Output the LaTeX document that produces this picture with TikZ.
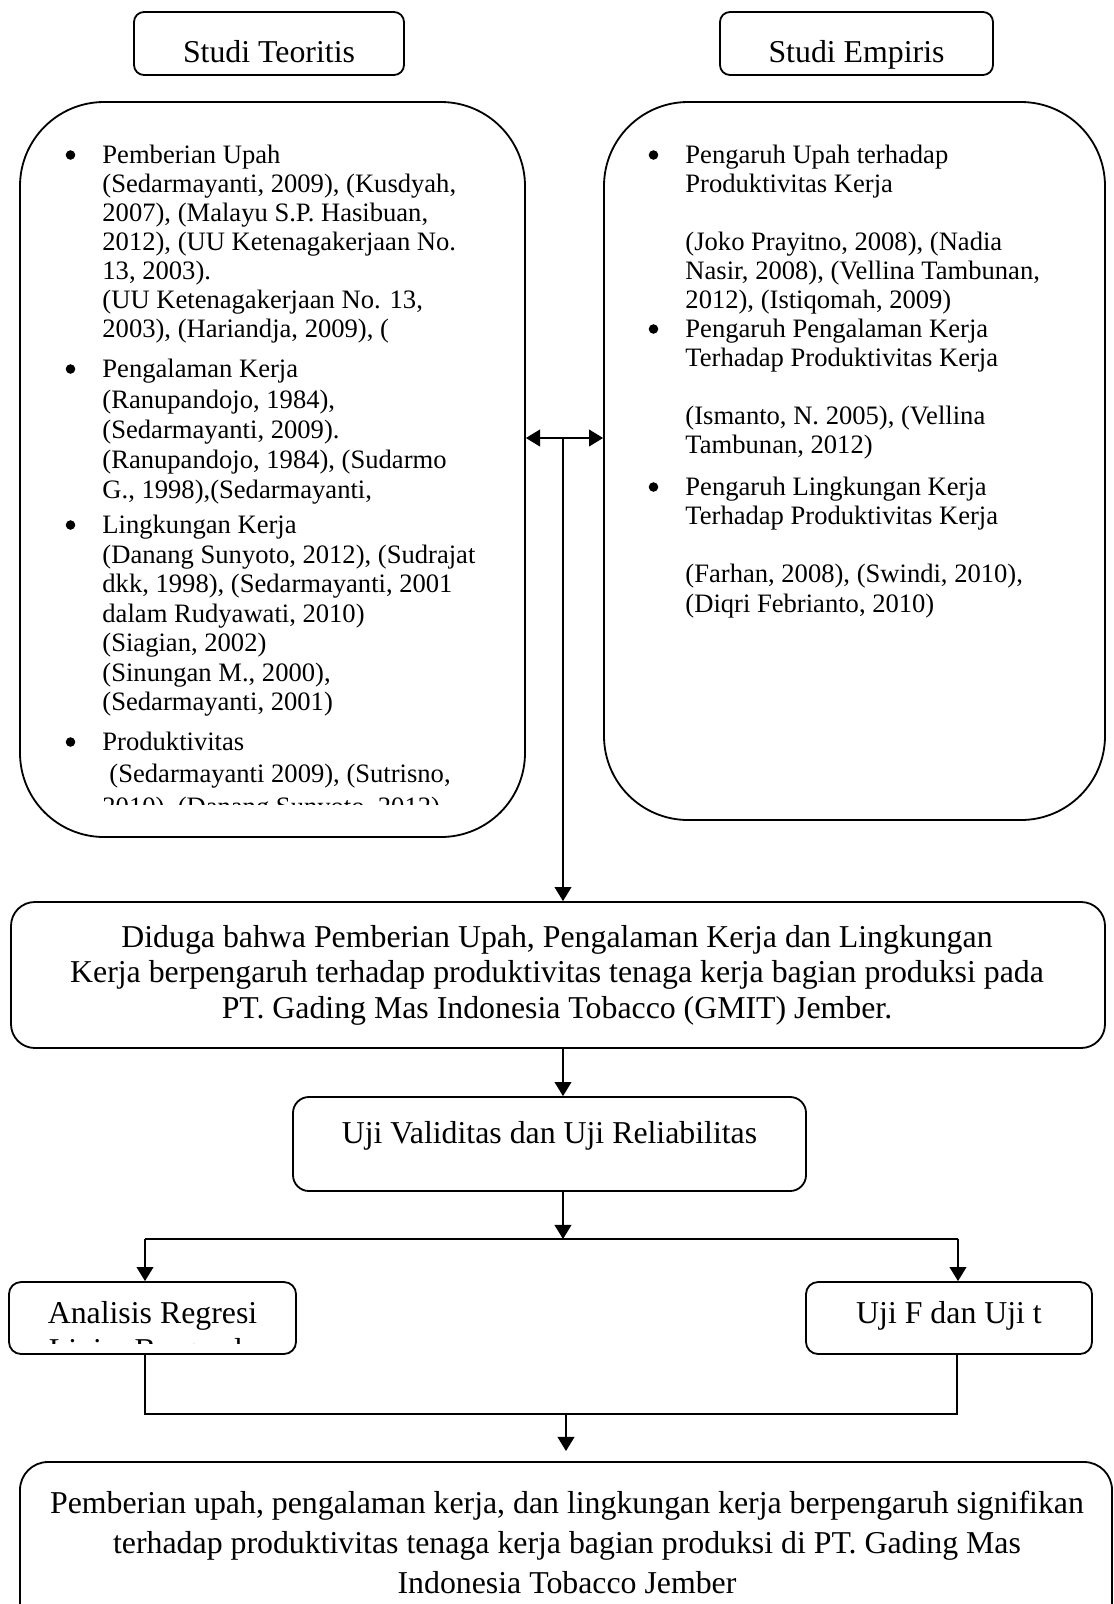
\documentclass[tikz,border=0pt]{standalone}
\usepackage{fontspec}
\setmainfont{Liberation Serif}
\usetikzlibrary{arrows.meta,fit}
\begin{document}
\begin{tikzpicture}[x=0.44pt,y=-0.44pt,
  box/.style={draw, line width=0.8pt, inner sep=0pt},
  sm/.style={font=\fontsize{11.7}{13}\selectfont, anchor=base west, inner sep=0pt},
  lg/.style={font=\fontsize{14}{16}\selectfont, anchor=base, inner sep=0pt},
  arr/.style={line width=0.6pt, -{Triangle[length=6.2pt,width=7.4pt]}},
  barr/.style={line width=0.6pt, {Triangle[length=6.2pt,width=7.4pt]}-{Triangle[length=6.2pt,width=7.4pt]}},
  ln/.style={line width=0.6pt}]
\useasboundingbox (0,0) rectangle (1114,1604);
\clip (0,0) rectangle (1114,1604);

% boxes
\node[box, rounded corners=4.4pt, fit={(134,12) (404,75)}] (st) {};
\node[box, rounded corners=4.4pt, fit={(720,12) (993,75)}] (se) {};
\node[box, rounded corners=37pt, fit={(20,102) (525,837)}] (lb) {};
\node[box, rounded corners=37pt, fit={(604,102) (1105,820)}] (rb) {};
\node[box, rounded corners=10.5pt, fit={(11,902) (1105,1048)}] (dg) {};
\node[box, rounded corners=7pt, fit={(293,1097) (806,1191)}] (uv) {};
\node[box, rounded corners=5.3pt, fit={(9,1282) (296,1354)}] (ar) {};
\node[box, rounded corners=5.3pt, fit={(806,1282) (1092,1354)}] (uf) {};
\node[box, rounded corners=12.3pt, fit={(20,1462) (1112,1700)}] (fb) {};

% headings
\node[lg] (stt) at (269,62) {Studi Teoritis};
\node[lg] (set) at (856.5,62) {Studi Empiris};

% left box text
\begin{scope}
\clip (20,102) rectangle (525,804);
\foreach \yy/\txt [count=\i] in {
  163/{Pemberian Upah},
  192/{(Sedarmayanti, 2009), (Kusdyah,},
  221/{2007), (Malayu S.P. Hasibuan,},
  250/{2012), (UU Ketenagakerjaan No.},
  279/{13, 2003).},
  308/{(UU Ketenagakerjaan No. 13,},
  337/{2003), (Hariandja, 2009), (},
  377/{Pengalaman Kerja},
  408/{(Ranupandojo, 1984),},
  438/{(Sedarmayanti, 2009).},
  468/{(Ranupandojo, 1984), (Sudarmo},
  498/{G., 1998),(Sedarmayanti,},
  533/{Lingkungan Kerja},
  563/{(Danang Sunyoto, 2012), (Sudrajat},
  592/{dkk, 1998), (Sedarmayanti, 2001},
  622/{dalam Rudyawati, 2010)},
  651/{(Siagian, 2002)},
  681/{(Sinungan M., 2000),},
  710/{(Sedarmayanti, 2001)},
  750/{Produktivitas},
  815/{2010), (Danang Sunyoto, 2012)}}
  \node[sm] (lt\i) at (102,\yy) {\txt};
\node[sm] (lt22) at (109,782) {(Sedarmayanti 2009), (Sutrisno,};
\end{scope}
\foreach \yy in {163,377,533,750} \fill (70.5,\yy-8) circle (2.1pt);

% right box text
\foreach \yy/\txt [count=\i] in {
  163/{Pengaruh Upah terhadap},
  192/{Produktivitas Kerja},
  250/{(Joko Prayitno, 2008), (Nadia},
  279/{Nasir, 2008), (Vellina Tambunan,},
  308/{2012), (Istiqomah, 2009)},
  337/{Pengaruh Pengalaman Kerja},
  366/{Terhadap Produktivitas Kerja},
  424/{(Ismanto, N. 2005), (Vellina},
  453/{Tambunan, 2012)},
  495/{Pengaruh Lingkungan Kerja},
  524/{Terhadap Produktivitas Kerja},
  582/{(Farhan, 2008), (Swindi, 2010),},
  612/{(Diqri Febrianto, 2010)}}
  \node[sm] (rt\i) at (685,\yy) {\txt};
\foreach \yy in {163,337,495} \fill (653.5,\yy-8) circle (2.1pt);

% Diduga box text
\node[lg] (dg1) at (557,947) {Diduga bahwa Pemberian Upah, Pengalaman Kerja dan Lingkungan};
\node[lg] (dg2) at (557,982) {Kerja berpengaruh terhadap produktivitas tenaga kerja bagian produksi pada};
\node[lg] (dg3) at (557,1018) {PT. Gading Mas Indonesia Tobacco (GMIT) Jember.};

\node[lg] (uvt) at (549.5,1143) {Uji Validitas dan Uji Reliabilitas};

\begin{scope}
\clip (9,1282) rectangle (296,1343);
\node[lg] (art1) at (152.5,1323) {Analisis Regresi};
\node[lg] (art2) at (152.5,1360) {Linier Berganda};
\end{scope}
\node[lg] (uft) at (949,1323) {Uji F dan Uji t};

\node[lg] (fb1) at (567,1513) {Pemberian upah, pengalaman kerja, dan lingkungan kerja berpengaruh signifikan};
\node[lg] (fb2) at (567,1553) {terhadap produktivitas tenaga kerja bagian produksi di PT. Gading Mas};
\node[lg] (fb3) at (567,1593) {Indonesia Tobacco Jember};

% connectors
\coordinate (bj) at (563,438);
\draw[barr] (bj -| lb.east) -- (bj -| rb.west);
\draw[arr] (bj) -- (bj |- dg.north);
\draw[arr] (dg.south -| bj) -- (uv.north -| bj);
\coordinate (hm) at (563,1239);
\coordinate (hl) at (145,1239);
\coordinate (hr) at (958,1239);
\draw[arr] (uv.south -| bj) -- (hm);
\draw[line width=1.1pt] (hl) -- (hr);
\draw[arr] (hl) -- (hl |- ar.north);
\draw[arr] (hr) -- (hr |- uf.north);
\coordinate (jl) at (145,1414);
\coordinate (jr) at (957,1414);
\draw[ln] (ar.south -| jl) -- (jl) -- (jr) -- (uf.south -| jr);
\coordinate (jm) at (566,1414);
\coordinate (je) at (566,1451);
\draw[arr] (jm) -- (je);
\end{tikzpicture}
\end{document}
